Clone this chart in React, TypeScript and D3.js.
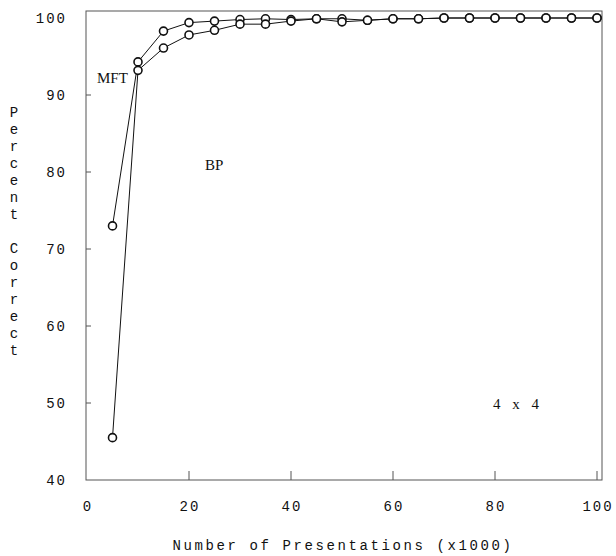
import React from 'react';
import * as d3 from 'd3';

// presentations (x1000)
const presentations = [5, 10, 15, 20, 25, 30, 35, 40, 45, 50, 55, 60, 65, 70, 75, 80, 85, 90, 95, 100];
// percent correct
const mftValues = [73.0, 94.3, 98.3, 99.4, 99.6, 99.8, 99.9, 99.8, 99.9, 99.9, 99.7, 99.9, 99.9, 100, 100, 100, 100, 100, 100, 100];
const bpValues = [45.5, 93.2, 96.1, 97.8, 98.4, 99.2, 99.2, 99.6, 99.9, 99.5, 99.7, 99.9, 99.9, 100, 100, 100, 100, 100, 100, 100];

const xTicks = [0, 20, 40, 60, 80, 100];
const yTicks = [40, 50, 60, 70, 80, 90, 100];
const yTitle = ['P', 'e', 'r', 'c', 'e', 'n', 't', '', 'C', 'o', 'r', 'r', 'e', 'c', 't'];

const W = 616, H = 556;
const frame = { left: 86, right: 602, top: 11, bottom: 480 };

const mono = '"Liberation Mono", "DejaVu Sans Mono", monospace';
const serif = '"Liberation Serif", "DejaVu Serif", serif';

export default function App() {
  const x = d3.scaleLinear().domain([0, 100]).range([87, 597]);
  const y = d3.scaleLinear().domain([40, 100]).range([480, 18]);

  const line = d3.line<number>()
    .x((d, i) => x(presentations[i]))
    .y(d => y(d));

  const series = [mftValues, bpValues];

  return (
    <svg width={W} height={H} style={{ position: 'absolute', left: 0, top: 0, background: '#fff' }}>
      {/* frame */}
      <rect x={frame.left} y={frame.top} width={frame.right - frame.left} height={frame.bottom - frame.top}
        fill="none" stroke="#555" strokeWidth={1} />

      {/* y ticks */}
      {yTicks.map(t => (
        <g key={'y' + t}>
          {t > 40 && t < 100 && <line x1={frame.left} x2={frame.left + 5} y1={y(t)} y2={y(t)} stroke="#555" />}
          <text x={67} y={y(t)} dy="0.35em" textAnchor="end" fontFamily={mono} fontSize={14}
            letterSpacing={2} fill="#111">{t}</text>
        </g>
      ))}

      {/* x ticks */}
      {xTicks.map(t => (
        <g key={'x' + t}>
          {t > 0 && <line x1={x(t)} x2={x(t)} y1={frame.bottom} y2={frame.bottom - 9} stroke="#555" />}
          <text x={x(t) + 1} y={511} textAnchor="middle" fontFamily={mono} fontSize={14}
            letterSpacing={2} fill="#111">{t}</text>
        </g>
      ))}

      {/* axis titles */}
      <text x={343} y={550} textAnchor="middle" fontFamily={mono} fontSize={14} letterSpacing={2.6}
        fill="#111">Number of Presentations (x1000)</text>
      {yTitle.map((c, i) => (
        <text key={'t' + i} x={14} y={117 + i * 17} textAnchor="middle" fontFamily={mono} fontSize={14}
          fill="#111">{c}</text>
      ))}

      {/* series */}
      {series.map((vals, si) => (
        <g key={'s' + si}>
          <path d={line(vals) || ''} fill="none" stroke="#111" strokeWidth={1} />
          {vals.map((v, i) => (
            <circle key={i} cx={x(presentations[i])} cy={y(v)} r={4} fill="#fff" stroke="#111" strokeWidth={1.6} />
          ))}
        </g>
      ))}

      {/* annotations */}
      <text x={97} y={83} fontFamily={serif} fontSize={15} fill="#111">MFT</text>
      <text x={205} y={170} fontFamily={serif} fontSize={15} fill="#111">BP</text>
      <text x={493} y={409} fontFamily={serif} fontSize={15} wordSpacing={8} fill="#111">4 x 4</text>
    </svg>
  );
}
